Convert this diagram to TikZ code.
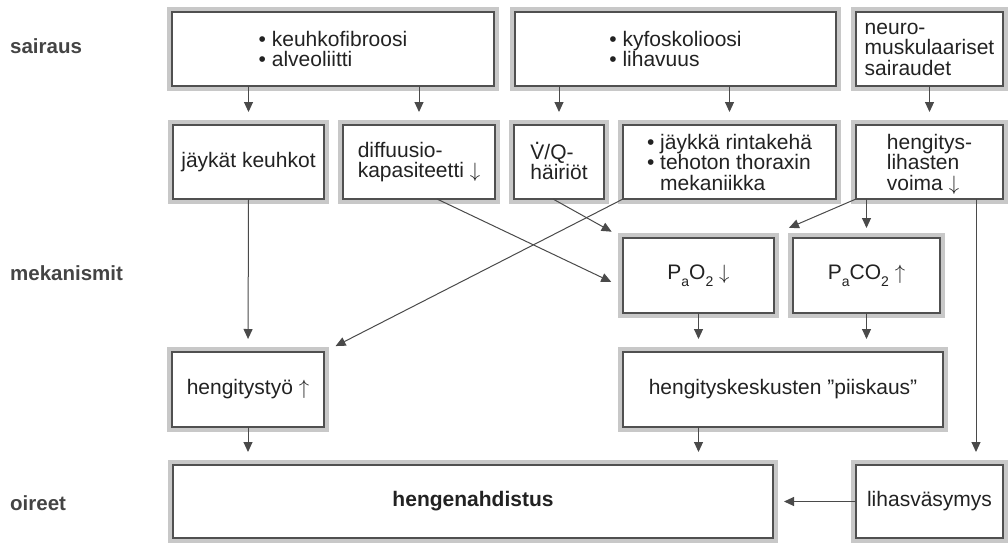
\documentclass[tikz,border=0pt]{standalone}
\usepackage{fontspec}
\setmainfont{Liberation Sans}
\usetikzlibrary{arrows.meta}
\definecolor{frame}{HTML}{C8C8C8}
\definecolor{boxline}{HTML}{505050}
\definecolor{lineclr}{HTML}{4A4A4A}
\definecolor{txt}{HTML}{222222}
\definecolor{lab}{HTML}{444444}
\newcommand\boxfont{\fontsize{21}{20.5}\selectfont}
\newcommand\lowsub[1]{\raisebox{-0.33em}{\fontsize{14}{14}\selectfont #1}}
\newcommand\Vdot{\ooalign{V\cr\hidewidth\raisebox{0.7em}{.}\hidewidth\cr}}
\newcommand\dnarr{\smash{$\downarrow$}}
\newcommand\uparr{\smash{$\uparrow$}}
\newcommand\bx[7]{\node[gbox, minimum width={(#4-#2)*1pt}, minimum height={(#5-#3)*1pt}, #6] (#1) at ({(#2+#4)/2},{(#3+#5)/2}) {#7};}
\tikzset{
  gbox/.style={draw=boxline, line width=1.3pt, fill=white, inner sep=0pt, outer sep=0pt,
    font=\boxfont, text=txt, preaction={draw=frame, line width=10pt}},
  arr/.style={draw=lineclr, line width=1pt, -{Triangle[length=10pt,width=9pt]}, shorten >=13pt},
  lbl/.style={anchor=base west, inner sep=0pt, font=\fontsize{20.5}{20.5}\selectfont\bfseries, text=lab}
}
\begin{document}
\begin{tikzpicture}[x=1pt,y=-1pt]
\useasboundingbox (0,0) rectangle (1008,543);
% row labels
\node[lbl] (l1) at (10,53) {sairaus};
\node[lbl] (l2) at (10,280) {mekanismit};
\node[lbl] (l3) at (10,510) {oireet};
% boxes
\bx{A}{172}{12}{494}{86}{align=left}{• keuhkofibroosi\\• alveoliitti}
\bx{B}{515}{12}{836}{86}{align=left}{• kyfoskolioosi\\• lihavuus}
\bx{C}{856}{12}{1003}{86}{align=left}{neuro-\\muskulaariset\\sairaudet}
\bx{D}{173}{125}{324}{199}{}{jäykät keuhkot}
\bx{E}{343}{125}{495}{199}{align=left}{diffuusio-\\kapasiteetti \dnarr}
\bx{F}{514}{125}{604}{199}{align=left}{\Vdot/Q-\\häiriöt}
\bx{G}{623}{125}{836}{199}{align=left}{• jäykkä rintakehä\\• tehoton thoraxin\\\phantom{• }mekaniikka}
\bx{H}{856}{125}{1003}{199}{align=left}{hengitys-\\lihasten\\voima \dnarr}
\bx{I}{623}{238}{774}{313}{}{P\lowsub{a}O\lowsub{2} \dnarr}
\bx{J}{793}{238}{940}{313}{}{P\lowsub{a}CO\lowsub{2} \uparr}
\bx{K}{172}{352}{324}{427}{}{hengitystyö \uparr}
\bx{L}{623}{352}{943}{427}{}{hengityskeskusten ”piiskaus”}
\bx{M}{173}{465}{773}{538}{font=\boxfont\bfseries}{hengenahdistus}
\bx{N}{856}{465}{1003}{538}{}{lihasväsymys}
% vertical connectors
\draw[arr] (A.south -| D.north) -- (D.north);
\draw[arr] (A.south -| E.north) -- (E.north);
\draw[arr] (B.south -| F.north) -- (F.north);
\draw[arr] (B.south -| G.north) -- (G.north);
\draw[arr] (C.south) -- (H.north);
\draw[arr] (D.south) -- (K.north);
\draw[arr] (I.south) -- (I.south |- L.north);
\draw[arr] (J.south) -- (J.south |- L.north);
\draw[arr] (K.south) -- (K.south |- M.north);
\draw[arr] (L.south -| I.south) -- (I.south |- M.north);
\draw[arr] ([xshift=-27pt]H.south east) -- ([xshift=-27pt]N.north east);
\draw[arr, shorten >=10pt] (H.south -| J.north) -- (J.north);
\draw[arr, shorten >=11pt] (N.west) -- (M.east);
% diagonal connectors
\draw[arr] ([xshift=18pt]E.south) -- ([yshift=-12pt]I.west);
\draw[arr] ([xshift=-6pt]F.south) -- (I.north west);
\draw[arr] (G.south west) -- (K.north east);
\draw[arr] (H.south west) -- ([xshift=3pt,yshift=5pt]I.north east);
\end{tikzpicture}
\end{document}
